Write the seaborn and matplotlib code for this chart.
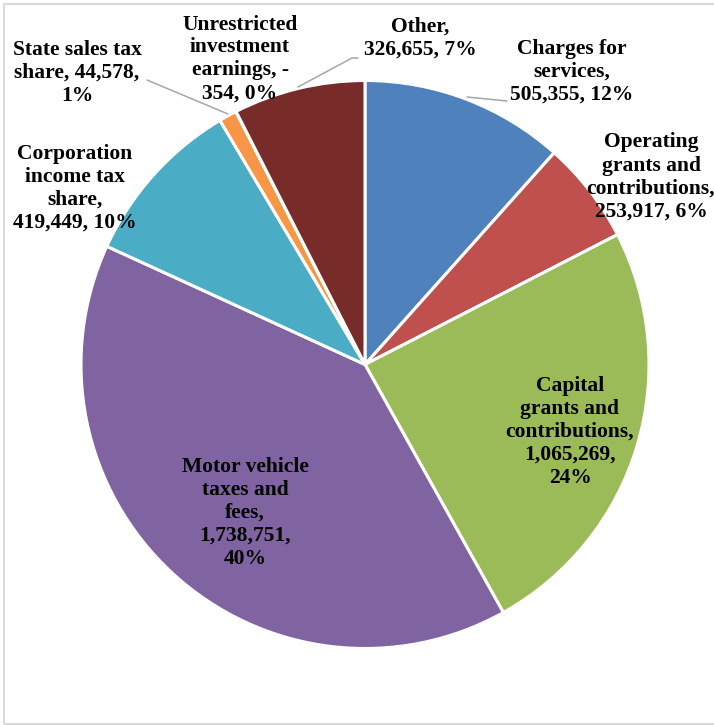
import matplotlib
matplotlib.use("Agg")
import matplotlib.pyplot as plt
from matplotlib.patches import Rectangle
import seaborn as sns

# Revenue sources, in drawing order (clockwise from 12 o'clock)
categories = [
    "Charges for services",
    "Operating grants and contributions",
    "Capital grants and contributions",
    "Motor vehicle taxes and fees",
    "Corporation income tax share",
    "State sales tax share",
    "Unrestricted investment earnings",
    "Other",
]
amounts = [505355, 253917, 1065269, 1738751, 419449, 44578, -354, 326655]
percents = ["12%", "6%", "24%", "40%", "10%", "1%", "0%", "7%"]
colors = ["#4F81BD", "#C0504D", "#9BBB59", "#8064A2",
          "#4BACC6", "#F79646", "#2C4D75", "#772C2A"]

# Label text, broken across lines the way it is set on the chart
label_lines = [
    ["Charges for", "services,", "505,355, 12%"],
    ["Operating", "grants and", "contributions,", "253,917, 6%"],
    ["Capital", "grants and", "contributions,", "1,065,269,", "24%"],
    ["Motor vehicle", "taxes and", "fees,", "1,738,751,", "40%"],
    ["Corporation", "income tax", "share,", "419,449, 10%"],
    ["State sales tax", "share, 44,578,", "1%"],
    ["Unrestricted", "investment", "earnings, -", "354, 0%"],
    ["Other,", "326,655, 7%"],
]

# Label anchor points (pixel centres of each text block) and leader lines
W, H = 714, 725
CX, CY, R = 365, 364.5, 284
label_px = [(572, 72), (651, 177), (570, 432), (245, 513), (75, 188),
            (77, 73), (240, 59), (420, 38)]
leaders = {
    0: [(467, 97), (507, 101)],
    5: [(147, 80), (228, 114)],
    7: [(298, 87), (352, 58), (358, 58)],
}

sns.set_theme(style="white")
plt.rcParams["font.family"] = ["Liberation Serif", "DejaVu Serif"]

fig = plt.figure(figsize=(W / 100, H / 100), dpi=100)
fig.patch.set_facecolor("white")
fig.patches.append(Rectangle((4 / W, 1 - 724 / H), 1.2, (724 - 4) / H,
                             transform=fig.transFigure, fill=False,
                             edgecolor="#D9D9D9", linewidth=1.5))

ax = fig.add_axes([(CX - R) / W, (H - CY - R) / H, 2 * R / W, 2 * R / H])
ax.pie([abs(v) for v in amounts], colors=colors, startangle=90,
       counterclock=False, radius=1.0,
       wedgeprops=dict(edgecolor="white", linewidth=2.2))
ax.set_xlim(-1, 1)
ax.set_ylim(-1, 1)
ax.set_aspect("auto")
ax.axis("off")


def to_data(px, py):
    return (px - CX) / R, (CY - py) / R


for i, pts in leaders.items():
    xs, ys = zip(*[to_data(*p) for p in pts])
    ax.plot(xs, ys, color="#A6A6A6", linewidth=1.1, clip_on=False, zorder=1)

for lines, (px, py) in zip(label_lines, label_px):
    x, y = to_data(px, py)
    ax.text(x, y, "\n".join(lines), ha="center", va="center",
            fontsize=15.5, fontweight="bold", color="black",
            linespacing=1.2, clip_on=False, zorder=5)

fig.savefig("out.png", dpi=100, facecolor="white")
